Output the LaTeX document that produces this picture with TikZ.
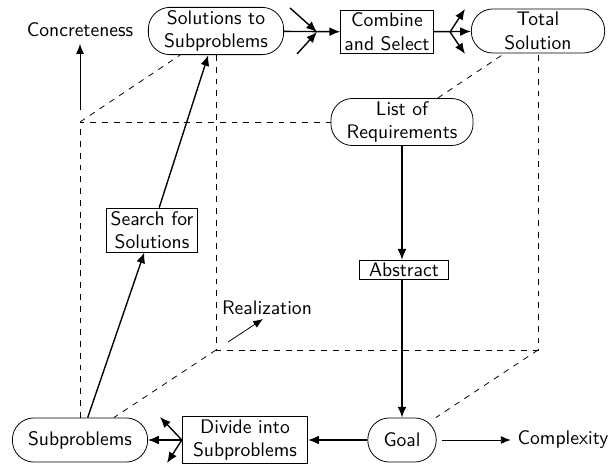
\documentclass[tikz,border=0pt]{standalone}
\usepackage{tikz}
\usetikzlibrary{arrows.meta}

\begin{document}
\begin{tikzpicture}[
    x=0.51pt, y=-0.51pt,
    font=\sffamily,
    term/.style={
        draw, rectangle, rounded corners=11pt,
        minimum height=22.5pt, inner xsep=8pt, inner ysep=1.5pt,
        align=center
    },
    box/.style={
        draw, rectangle, inner xsep=2pt, inner ysep=1.5pt,
        minimum width=45pt, align=center
    },
    arr/.style={-{Latex[length=5.5pt, width=4.5pt]}, line width=0.7pt},
    axarr/.style={-{Latex[length=5pt, width=4pt]}, thin},
    hidden/.style={dashed, thin}
]
\useasboundingbox (0,0) rectangle (609,466);

%% ---- Nodes at explicit (x,y) positions ----

% Front face of the cube
\node[term]                   at ( 80,440) (sub)    {Subproblems};
\node[term]                   at (402,440) (goal)   {Goal};
\node[term]                   at (402,122) (req)    {List of\\Requirements};
\coordinate                   (ftl) at (80,122);

% Back face of the cube
\node[term]                   at (216, 31) (sol)    {Solutions to\\Subproblems};
\node[term, minimum width=68pt] at (538, 31) (total) {Total\\Solution};
\coordinate                   (bbl) at (216,350);
\coordinate                   (bbr) at (538,350);

% Steps on the edges
\node[box]                    at (387, 32) (comb)   {Combine\\and Select};
\node[box]                    at (404,270) (abst)   {Abstract};
\node[box, minimum width=64pt] at (245,440) (divide) {Divide into\\Subproblems};
\node[box]                    at (152,230) (search) {Search for\\Solutions};

% Axis labels
\node at ( 80, 30) (concr)  {Concreteness};
\node at (563,440) (cplx)   {Complexity};
\node at (267,308) (realiz) {Realization};

% Free ends of the fan arrows
\coordinate (jin)  at (317, 32);
\coordinate (in1)  at (290,  8);
\coordinate (in2)  at (297, 54);
\coordinate (jout) at (450, 32);
\coordinate (out1) at (465,  9);
\coordinate (out2) at (465, 54);
\coordinate (dv1)  at (160,417);
\coordinate (dv2)  at (167,463);
\coordinate (cbase) at ( 80,110);
\coordinate (rbase) at (228,342);
\coordinate (rtip)  at (263,319);

%% ---- Hidden cube edges ----
\draw[hidden] (sub) -- (ftl) -- (req);
\draw[hidden] (ftl) -- (sol);
\draw[hidden] (sol) -- (bbl) -- (bbr) -- (total);
\draw[hidden] (bbl) -- (sub);
\draw[hidden] (bbr) -- (goal);
\draw[hidden] (req) -- (total);

%% ---- Arrows ----

% 1. Requirements -> Abstract -> Goal
\draw[arr] (req) -- (req |- abst.north);
\draw[arr] (req |- abst.south) -- (goal);

% 2. Goal -> Divide -> Subproblems (fan out)
\draw[arr] (goal) -- (divide);
\draw[arr] (divide) -- (sub);
\draw[arr] (divide.west) -- (dv1);
\draw[arr] (divide.west) -- (dv2);

% 3. Subproblems -> Search -> Solutions
\draw[arr] (sub) -- (search);
\draw[arr] (search) -- (sol);

% 4. Solutions -> Combine (fan in)
\draw[arr] (sol) -- (comb);
\draw[arr] (in1) -- (jin);
\draw[arr] (in2) -- (jin);

% 5. Combine -> Total (fan out)
\draw[arr] (comb) -- (total);
\draw[arr] (jout) -- (out1);
\draw[arr] (jout) -- (out2);

% 6. Axes
\draw[axarr] (cbase) -- (concr);
\draw[axarr, shorten <=3pt] (goal) -- (cplx);
\draw[axarr] (rbase) -- (rtip);

\end{tikzpicture}
\end{document}
